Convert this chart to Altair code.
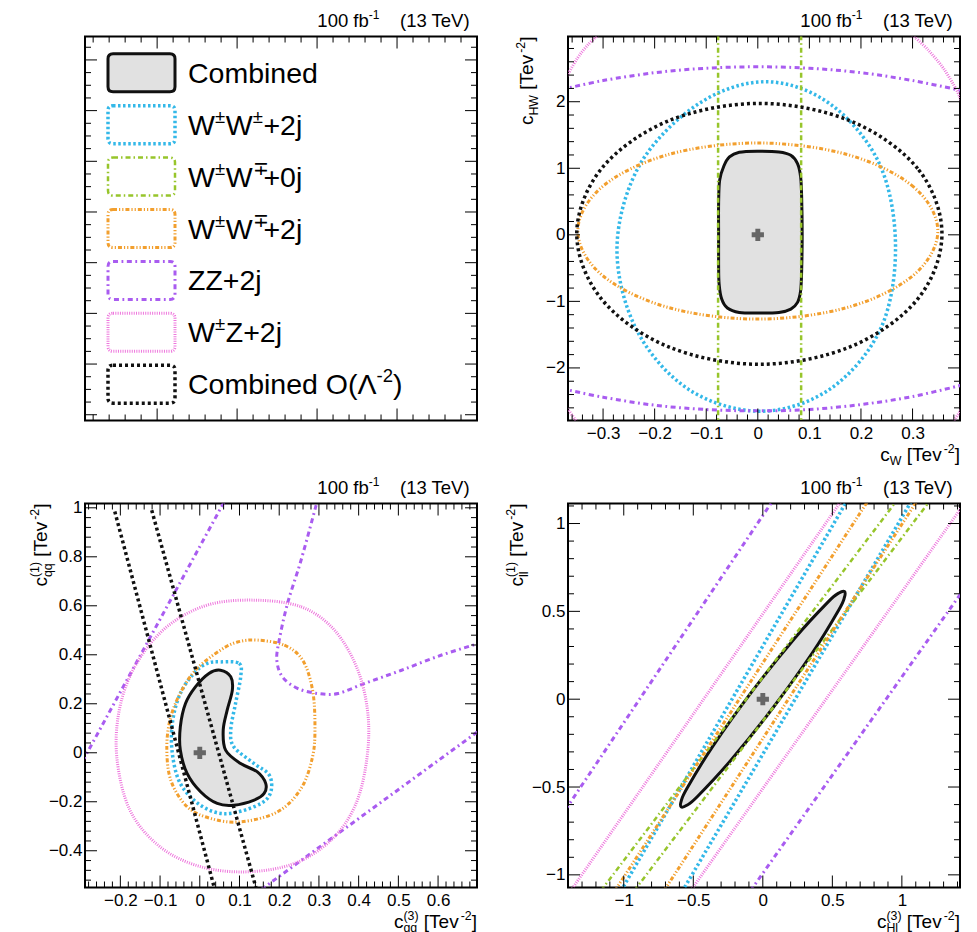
import math
import re

import altair as alt
import pandas as pd

FONT = "Liberation Sans"
PW, PH = 392, 384

# ------------------------------------------------------------------ texts
LEGEND_LABELS = [
    "Combined",
    "W^{±}W^{±}+2j",
    "W^{±}W^{∓}+0j",
    "W^{±}W^{∓}+2j",
    "ZZ+2j",
    "W^{±}Z+2j",
    "Combined O(Λ^{-2})",
]
LUMI_TEXT = "100 fb^{-1}    (13 TeV)"

# ------------------------------------------------------------------ styles (one per legend entry)
COLORS = ["#111111", "#33b8e8", "#97c52b", "#f29f2e", "#a95cf0", "#ee77dd", "#111111"]
DASHES = [None, [2.5, 2.5], [5, 3, 1.5, 3], [4, 2, 1.2, 2, 1.2, 2], [5, 3.5, 1.8, 3.5], [1, 1.3], [3, 3]]
WIDTHS = [3, 3.5, 2.5, 3, 3, 3, 3.5]
COMBINED_FILL = "#e1e1e1"
BEST_FIT_COLOR = "#666666"

# ------------------------------------------------------------------ legend-pad frame ticks (fractions)
TL_X_MAJOR = [0.184, 0.388, 0.592, 0.796]
TL_Y_MAJOR = [0.061, 0.193, 0.324, 0.457, 0.587, 0.717, 0.848, 0.978]

# ------------------------------------------------------------------ top right: c_W vs c_HW
TR_X_DOMAIN = [-0.368, 0.392]
TR_Y_DOMAIN = [-2.79, 2.98]
TR_X_LABELS = [-0.3, -0.2, -0.1, 0, 0.1, 0.2, 0.3]
TR_Y_LABELS = [-2, -1, 0, 1, 2]
TR_X_TITLE = "c_{W} [Tev^{-2}]"
TR_Y_TITLE = "c_{HW} [Tev^{-2}]"
TR_BEST = [(0.0, 0.0)]
TR_COMBINED = [(0.000, 1.256), (0.041, 1.246), (0.064, 1.196), (0.077, 1.070), (0.083, 0.870),
               (0.085, 0.570), (0.086, 0.000), (0.085, -0.540), (0.083, -0.840), (0.077, -1.015),
               (0.064, -1.116), (0.041, -1.166), (0.000, -1.176), (-0.036, -1.166), (-0.059, -1.100),
               (-0.070, -0.965), (-0.075, -0.740), (-0.076, -0.440), (-0.076, 0.000), (-0.076, 0.470),
               (-0.074, 0.820), (-0.066, 1.030), (-0.055, 1.170), (-0.036, 1.240)]
TR_SSWW = [(0.267, -0.175), (0.236, 1.063), (0.140, 1.968), (0.015, 2.300), (-0.115, 1.968),
           (-0.228, 1.063), (-0.273, -0.175), (-0.236, -1.413), (-0.135, -2.318), (0.005, -2.650),
           (0.140, -2.318), (0.238, -1.413)]
TR_OSWW0_L = [(-0.077, -2.9), (-0.077, 3.1)]
TR_OSWW0_R = [(0.084, -2.9), (0.084, 3.1)]
TR_OSWW2 = [(0.349, 0.057), (0.302, 0.720), (0.175, 1.203), (0.000, 1.380), (-0.175, 1.203),
            (-0.302, 0.720), (-0.349, 0.057), (-0.302, -0.605), (-0.175, -1.089), (0.000, -1.266),
            (0.175, -1.089), (0.302, -0.605)]
TR_ZZ_UP = [(-0.38, 2.184), (-0.3, 2.318), (-0.2, 2.436), (-0.1, 2.503), (0.0, 2.525),
            (0.1, 2.503), (0.2, 2.436), (0.3, 2.318), (0.40, 2.16)]
TR_ZZ_LO = [(-0.38, -2.31), (-0.3, -2.44), (-0.2, -2.56), (-0.1, -2.625), (0.0, -2.645),
            (0.1, -2.625), (0.2, -2.55), (0.3, -2.43), (0.40, -2.25)]
TR_WZ_TL = [(-0.372, 2.36), (-0.35, 2.65), (-0.33, 2.85), (-0.31, 3.0)]
TR_WZ_TR = [(0.30, 3.0), (0.33, 2.78), (0.36, 2.50), (0.385, 2.18), (0.395, 2.0)]
TR_WZ_BL = [(-0.372, -2.58), (-0.35, -2.82)]
TR_WZ_BR = [(0.378, -2.82), (0.395, -2.62)]
TR_LO = [(0.357, 0.015), (0.310, 0.995), (0.180, 1.710), (0.003, 1.975), (-0.174, 1.710),
         (-0.303, 0.995), (-0.351, 0.015), (-0.303, -0.965), (-0.174, -1.680), (0.003, -1.945),
         (0.180, -1.680), (0.310, -0.965)]

# ------------------------------------------------------------------ bottom left: c_qq(3) vs c_qq(1)
BL_X_DOMAIN = [-0.289, 0.698]
BL_Y_DOMAIN = [-0.55, 1.0176]
BL_X_LABELS = [-0.2, -0.1, 0, 0.1, 0.2, 0.3, 0.4, 0.5, 0.6]
BL_Y_LABELS = [-0.4, -0.2, 0, 0.2, 0.4, 0.6, 0.8, 1]
BL_X_TITLE = "c_{qq}^{(3)} [Tev^{-2}]"
BL_Y_TITLE = "c_{qq}^{(1)} [Tev^{-2}]"
BL_BEST = [(0.0, 0.0)]
BL_COMBINED = [(0.052, 0.337), (0.078, 0.310), (0.082, 0.256), (0.069, 0.174), (0.059, 0.093),
               (0.065, 0.011), (0.103, -0.044), (0.145, -0.078), (0.166, -0.125), (0.162, -0.166),
               (0.137, -0.193), (0.086, -0.214), (0.044, -0.207), (0.002, -0.159), (-0.032, -0.084),
               (-0.049, 0.011), (-0.049, 0.106), (-0.036, 0.201), (-0.011, 0.269), (0.023, 0.324)]
BL_SSWW = [(0.052, 0.371), (0.099, 0.365), (0.103, 0.310), (0.090, 0.201), (0.078, 0.093),
           (0.086, 0.024), (0.137, -0.044), (0.175, -0.091), (0.179, -0.159), (0.154, -0.207),
           (0.086, -0.245), (0.035, -0.241), (-0.015, -0.193), (-0.053, -0.112), (-0.070, 0.011),
           (-0.068, 0.133), (-0.049, 0.242), (-0.015, 0.324), (0.019, 0.365)]
BL_OSWW2 = [(0.145, 0.460), (0.213, 0.439), (0.259, 0.378), (0.284, 0.256), (0.290, 0.106),
            (0.284, -0.016), (0.255, -0.146), (0.196, -0.241), (0.103, -0.282), (0.027, -0.268),
            (-0.032, -0.220), (-0.073, -0.112), (-0.083, 0.024), (-0.073, 0.147), (-0.045, 0.256),
            (-0.007, 0.344), (0.052, 0.419), (0.095, 0.452)]
BL_WZ = [(0.137, 0.623), (0.255, 0.596), (0.339, 0.501), (0.398, 0.337), (0.424, 0.147),
         (0.419, -0.044), (0.390, -0.220), (0.331, -0.356), (0.238, -0.452), (0.120, -0.486),
         (0.002, -0.465), (-0.100, -0.384), (-0.176, -0.234), (-0.209, -0.016), (-0.201, 0.188),
         (-0.159, 0.365), (-0.083, 0.514), (0.019, 0.603)]
BL_ZZ_A = [(-0.295, -0.034), (0.062, 1.026)]
BL_ZZ_B = [(0.155, -0.558), (0.705, 0.092)]
BL_ZZ_C = [(0.293, 1.011), (0.255, 0.786), (0.221, 0.610), (0.200, 0.460), (0.194, 0.378),
           (0.208, 0.310), (0.246, 0.263), (0.297, 0.242), (0.348, 0.242), (0.415, 0.283),
           (0.508, 0.337), (0.609, 0.399), (0.702, 0.446)]
BL_LO_A = [(-0.214, 0.985), (0.038, -0.56)]
BL_LO_B = [(-0.121, 0.990), (0.143, -0.56)]

# ------------------------------------------------------------------ bottom right: c_Hl(3) vs c_ll(1)
BR_X_DOMAIN = [-1.401, 1.418]
BR_Y_DOMAIN = [-1.072, 1.114]
BR_X_LABELS = [-1, -0.5, 0, 0.5, 1]
BR_Y_LABELS = [-1, -0.5, 0, 0.5, 1]
BR_X_TITLE = "c_{Hl}^{(3)} [Tev^{-2}]"
BR_Y_TITLE = "c_{ll}^{(1)} [Tev^{-2}]"
BR_BEST = [(0.0, 0.0)]
BR_COMBINED = [(0.587, 0.613), (0.587, 0.580), (0.546, 0.508), (0.359, 0.267), (0.076, -0.046),
               (-0.228, -0.346), (-0.470, -0.554), (-0.547, -0.604), (-0.587, -0.613), (-0.587, -0.580),
               (-0.546, -0.508), (-0.359, -0.267), (-0.076, 0.046), (0.228, 0.346), (0.470, 0.554),
               (0.547, 0.604)]
BR_SSWW_A = [(-1.02, -1.091), (0.61, 1.136)]
BR_SSWW_B = [(-0.58, -1.095), (1.075, 1.136)]
BR_OSWW0_A = [(-1.164, -1.09), (0.963, 1.13)]
BR_OSWW0_B = [(-0.924, -1.09), (1.202, 1.13)]
BR_OSWW2_A = [(-1.063, -1.09), (0.757, 1.13)]
BR_OSWW2_B = [(-0.710, -1.09), (1.110, 1.13)]
BR_ZZ_A = [(-1.42, -0.63), (0.08, 1.14)]
BR_ZZ_B = [(-0.09, -1.092), (1.43, 0.608)]
BR_WZ_A = [(-1.38, -1.089), (0.565, 1.13)]
BR_WZ_B = [(-0.52, -1.091), (1.43, 1.093)]

# ------------------------------------------------------------------ helpers
AW = {" ": 278, "(": 333, ")": 333, "+": 584, "-": 333, ".": 278, "[": 278, "]": 278,
      "±": 584, "∓": 584, "Λ": 667, "C": 722, "H": 722, "O": 778, "T": 611, "W": 944, "Z": 611,
      "b": 556, "c": 500, "d": 556, "e": 556, "f": 278, "i": 222, "j": 222, "l": 222, "m": 833,
      "n": 556, "o": 556, "q": 556, "v": 500, "V": 667}
for _d in "0123456789":
    AW[_d] = 556


def tw(s, size):
    return sum(AW.get(ch, 556) for ch in s) * size / 1000.0


TOKEN = re.compile(r"\^\{[^}]*\}|_\{[^}]*\}|[^_^]+")


def layout(markup, size, scale=0.65):
    toks = TOKEN.findall(markup)
    pieces, x, i = [], 0.0, 0
    while i < len(toks):
        t = toks[i]
        if t[0] in "^_" and t[1:2] == "{":
            group = [t]
            if (i + 1 < len(toks) and toks[i + 1][0] in "^_" and toks[i + 1][1:2] == "{"
                    and toks[i + 1][0] != t[0]):
                group.append(toks[i + 1])
                i += 1
            adv = 0.0
            for g in group:
                txt, fs = g[2:-1], size * scale
                shift = 0.42 * size if g[0] == "^" else -0.25 * size
                pieces.append((txt, fs, shift, x))
                adv = max(adv, tw(txt, fs))
            x += adv
        else:
            lead = len(t) - len(t.lstrip(" "))
            if t.strip(" "):
                pieces.append((t.strip(" "), size, 0.0, x + tw(" " * lead, size)))
            x += tw(t, size)
        i += 1
    return pieces, x


def text_run(markup, size, xa, ya, anchor="left", angle=0):
    pieces, total = layout(markup, size)
    out = []
    for txt, fs, shift, off in pieces:
        if angle == 0:
            start = xa if anchor == "left" else xa - total
            px, py = start + off, ya - shift
        else:
            start = ya if anchor == "left" else ya + total
            px, py = xa - shift, start - off
        out.append(
            alt.Chart(pd.DataFrame({"t": [txt]}))
            .mark_text(align="left", baseline="alphabetic", font=FONT, fontSize=fs, angle=angle, color="black")
            .encode(x=alt.value(px), y=alt.value(py), text="t:N")
        )
    return out


def ticks_on(major, n, lo, hi):
    step = (major[1] - major[0]) / n
    k0 = math.ceil((lo - major[0]) / step - 1e-9)
    k1 = math.floor((hi - major[0]) / step + 1e-9)
    ks = range(k0, k1 + 1)
    return ([round(major[0] + k * step, 6) for k in ks if k % n == 0],
            [round(major[0] + k * step, 6) for k in ks if k % n != 0])


def frame_ticks(xt, yt, X, Y, big=12, small=6):
    out = []
    for vals, ln in ((xt[0], big), (xt[1], small)):
        df = pd.DataFrame({"v": vals})
        out.append(alt.Chart(df).mark_rule(color="black", strokeWidth=1)
                   .encode(x=X("v"), y=alt.value(PH), y2=alt.value(PH - ln)))
        out.append(alt.Chart(df).mark_rule(color="black", strokeWidth=1)
                   .encode(x=X("v"), y=alt.value(0), y2=alt.value(ln)))
    for vals, ln in ((yt[0], big), (yt[1], small)):
        df = pd.DataFrame({"v": vals})
        out.append(alt.Chart(df).mark_rule(color="black", strokeWidth=1)
                   .encode(y=Y("v"), x=alt.value(0), x2=alt.value(ln)))
        out.append(alt.Chart(df).mark_rule(color="black", strokeWidth=1)
                   .encode(y=Y("v"), x=alt.value(PW), x2=alt.value(PW - ln)))
    return out


AXIS_COMMON = dict(format="~g", labelFont=FONT, labelFontSize=17, labelColor="black", ticks=False,
                   domain=False, grid=False, title=None, labelFlush=False, labelOverlap=False)

LUMI_X, LUMI_Y, LUMI_SIZE = PW - 5, -9.5, 18.5
TITLE_SIZE = 19
XTITLE_Y = PH + 40


def data_panel(xdom, ydom, xlabels, ylabels, xn, yn, curves, best, xtitle, ytitle, ytitle_x):
    sx = alt.Scale(domain=xdom, nice=False, zero=False)
    sy = alt.Scale(domain=ydom, nice=False, zero=False)
    ax = alt.Axis(values=xlabels, labelPadding=5, **AXIS_COMMON)
    ay = alt.Axis(values=ylabels, labelPadding=3, **AXIS_COMMON)

    def X(f):
        return alt.X(f, type="quantitative", scale=sx, axis=ax)

    def Y(f):
        return alt.Y(f, type="quantitative", scale=sy, axis=ay)

    layers = []
    for pts, k, closed in curves:
        df = pd.DataFrame(pts, columns=["x", "y"])
        df["i"] = range(len(df))
        mk = dict(clip=True, strokeWidth=WIDTHS[k],
                  interpolate="cardinal-closed" if closed else "cardinal")
        if DASHES[k]:
            mk["strokeDash"] = DASHES[k]
        enc = dict(x=X("x"), y=Y("y"), order=alt.Order("i:Q"), stroke=alt.value(COLORS[k]))
        if k == 0:
            enc["fill"] = alt.value(COMBINED_FILL)
        layers.append(alt.Chart(df).mark_line(**mk).encode(**enc))
    bdf = pd.DataFrame(best, columns=["x", "y"])
    layers.append(alt.Chart(bdf).mark_point(shape="cross", filled=True, size=150, opacity=1,
                                            color=BEST_FIT_COLOR).encode(x=X("x"), y=Y("y")))
    xt = ticks_on([xlabels[0], xlabels[1]], xn, xdom[0], xdom[1])
    yt = ticks_on([ylabels[0], ylabels[1]], yn, ydom[0], ydom[1])
    layers += frame_ticks(xt, yt, X, Y)
    layers += text_run(LUMI_TEXT, LUMI_SIZE, LUMI_X, LUMI_Y, anchor="right")
    layers += text_run(xtitle, TITLE_SIZE, PW, XTITLE_Y, anchor="right")
    layers += text_run(ytitle, TITLE_SIZE, ytitle_x, 0, anchor="right", angle=270)
    return alt.layer(*layers).properties(width=PW, height=PH)


BOX_PATH = ("M-0.85,-0.567L0.85,-0.567Q1,-0.567,1,-0.417L1,0.417Q1,0.567,0.85,0.567"
            "L-0.85,0.567Q-1,0.567,-1,0.417L-1,-0.417Q-1,-0.567,-0.85,-0.567Z")


def legend_panel():
    sx = alt.Scale(domain=[0, 1], nice=False, zero=False)
    sy = alt.Scale(domain=[1, 0], nice=False, zero=False)

    def X(f):
        return alt.X(f, type="quantitative", scale=sx, axis=None)

    def Y(f):
        return alt.Y(f, type="quantitative", scale=sy, axis=None)

    leg_y = alt.Y("label:N", scale=alt.Scale(type="point", domain=LEGEND_LABELS, padding=0.7), axis=None)
    layers = []
    for k, label in enumerate(LEGEND_LABELS):
        mk = dict(shape=BOX_PATH, size=4489, filled=False, opacity=1, strokeWidth=WIDTHS[k])
        if DASHES[k]:
            mk["strokeDash"] = DASHES[k]
        layers.append(
            alt.Chart(pd.DataFrame({"label": [label]})).mark_point(**mk)
            .encode(x=alt.value(56.5), y=leg_y, stroke=alt.value(COLORS[k]),
                    fill=alt.value(COMBINED_FILL if k == 0 else "transparent"))
        )
        pieces, _ = layout(label, 28.5)
        for txt, fs, shift, off in pieces:
            layers.append(
                alt.Chart(pd.DataFrame({"label": [label], "t": [txt]}))
                .mark_text(align="left", baseline="alphabetic", font=FONT, fontSize=fs, dy=10 - shift,
                           color="black")
                .encode(x=alt.value(103 + off), y=leg_y, text="t:N")
            )
    xt = ticks_on(TL_X_MAJOR, 5, 0, 1)
    yt = ticks_on(TL_Y_MAJOR, 4, 0, 1)
    layers += frame_ticks(xt, yt, X, Y)
    layers += text_run(LUMI_TEXT, LUMI_SIZE, LUMI_X, LUMI_Y, anchor="right")
    return alt.layer(*layers).properties(width=PW, height=PH).resolve_scale(y="independent")


tr = data_panel(
    TR_X_DOMAIN, TR_Y_DOMAIN, TR_X_LABELS, TR_Y_LABELS, 5, 5,
    [(TR_COMBINED, 0, True), (TR_SSWW, 1, True), (TR_OSWW0_L, 2, False), (TR_OSWW0_R, 2, False),
     (TR_OSWW2, 3, True), (TR_ZZ_UP, 4, False), (TR_ZZ_LO, 4, False), (TR_WZ_TL, 5, False),
     (TR_WZ_TR, 5, False), (TR_WZ_BL, 5, False), (TR_WZ_BR, 5, False), (TR_LO, 6, True)],
    TR_BEST, TR_X_TITLE, TR_Y_TITLE, -35)

bl = data_panel(
    BL_X_DOMAIN, BL_Y_DOMAIN, BL_X_LABELS, BL_Y_LABELS, 5, 5,
    [(BL_COMBINED, 0, True), (BL_SSWW, 1, True), (BL_OSWW2, 3, True), (BL_ZZ_A, 4, False),
     (BL_ZZ_B, 4, False), (BL_ZZ_C, 4, False), (BL_WZ, 5, True), (BL_LO_A, 6, False), (BL_LO_B, 6, False)],
    BL_BEST, BL_X_TITLE, BL_Y_TITLE, -38)

br = data_panel(
    BR_X_DOMAIN, BR_Y_DOMAIN, BR_X_LABELS, BR_Y_LABELS, 5, 5,
    [(BR_COMBINED, 0, True), (BR_SSWW_A, 1, False), (BR_SSWW_B, 1, False), (BR_OSWW0_A, 2, False),
     (BR_OSWW0_B, 2, False), (BR_OSWW2_A, 3, False), (BR_OSWW2_B, 3, False), (BR_ZZ_A, 4, False),
     (BR_ZZ_B, 4, False), (BR_WZ_A, 5, False), (BR_WZ_B, 5, False)],
    BR_BEST, BR_X_TITLE, BR_Y_TITLE, -45)

tl = legend_panel()

chart = (
    alt.concat(tl, tr, bl, br, columns=2, spacing={"row": 83, "column": 91}, bounds="flush",
               padding={"left": 20, "top": -0.5, "right": 5, "bottom": 0})
    .configure_view(stroke="black", strokeWidth=2)
)

chart.save("out.html", embed_options={"renderer": "svg", "actions": False})
